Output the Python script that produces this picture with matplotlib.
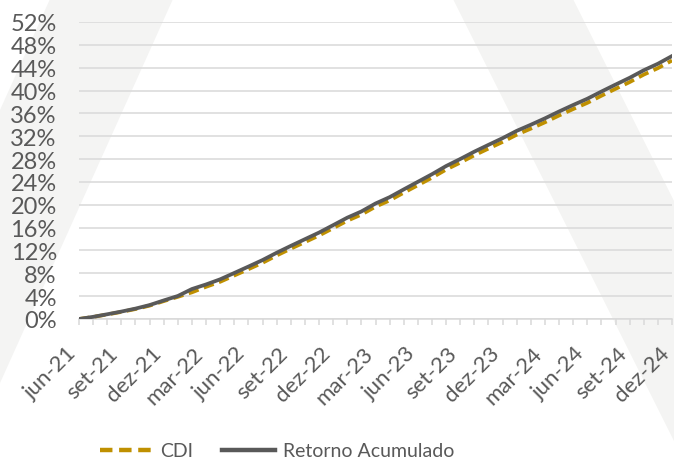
import matplotlib
matplotlib.use('Agg')
import matplotlib.pyplot as plt
import matplotlib.transforms as mtransforms
from matplotlib.patches import Polygon
from matplotlib.ticker import FixedLocator, MultipleLocator, PercentFormatter

# meses de jun-21 a dez-24 (43 pontos), rotulo a cada 3 meses
tick_labels = ['jun-21', 'set-21', 'dez-21', 'mar-22', 'jun-22', 'set-22', 'dez-22',
               'mar-23', 'jun-23', 'set-23', 'dez-23', 'mar-24', 'jun-24', 'set-24', 'dez-24']

cdi = [0.00, 0.36, 0.79, 1.24, 1.74, 2.34, 3.13, 3.88, 4.67, 5.64, 6.52, 7.62, 8.72,
       9.84, 11.12, 12.31, 13.46, 14.62, 15.90, 17.20, 18.28, 19.66, 20.76, 22.11,
       23.42, 24.74, 26.16, 27.38, 28.66, 29.84, 31.00, 32.27, 33.33, 34.44, 35.63,
       36.76, 37.84, 39.09, 40.30, 41.48, 42.79, 43.92, 45.26]

retorno = [0.00, 0.38, 0.83, 1.30, 1.82, 2.44, 3.25, 4.03, 5.25, 6.05, 6.95, 8.06, 9.18,
           10.32, 11.60, 12.80, 13.97, 15.13, 16.43, 17.74, 18.83, 20.22, 21.33, 22.69,
           24.02, 25.35, 26.78, 28.01, 29.30, 30.49, 31.66, 32.94, 34.01, 35.13, 36.33,
           37.47, 38.56, 39.82, 41.04, 42.23, 43.55, 44.69, 46.04]

plt.rcParams['font.family'] = ['Lato', 'DejaVu Sans']
txt = '#595959'

fig = plt.figure(figsize=(6.74, 4.64), dpi=100)

# marca d'agua ao fundo (pixels da figura)
bg = fig.add_axes([0, 0, 1, 1], zorder=-1)
bg.set_xlim(0, 674)
bg.set_ylim(464, 0)
bg.axis('off')
bg.add_patch(Polygon([(50, 0), (173, 0), (-36, 464), (-159, 464)], closed=True,
                     facecolor='#f4f4f3', edgecolor='none'))
bg.add_patch(Polygon([(453, 0), (573, 0), (805, 464), (685, 464)], closed=True,
                     facecolor='#f4f4f3', edgecolor='none'))

ax = fig.add_axes([79 / 674, 1 - 320 / 464, 593 / 674, 297 / 464])
ax.set_facecolor('none')

x = list(range(len(cdi)))
ax.plot(x, cdi, color='#bf9000', lw=2.7, dashes=(2.8, 1.5), label='CDI', zorder=3)
ax.plot(x, retorno, color='#595959', lw=2.7, label='Retorno Acumulado', zorder=4)

ax.set_xlim(0, len(cdi) - 1)
ax.set_ylim(0, 52)
ax.yaxis.set_major_locator(MultipleLocator(4))
ax.yaxis.set_major_formatter(PercentFormatter(decimals=0))
ax.grid(axis='y', color='#d9d9d9', lw=1.1)
ax.set_axisbelow(True)

ax.xaxis.set_major_locator(FixedLocator(range(0, len(cdi), 3)))
ax.xaxis.set_minor_locator(MultipleLocator(1))
ax.set_xticklabels(tick_labels)

for s in ['top', 'right', 'left']:
    ax.spines[s].set_visible(False)
ax.spines['bottom'].set_color('#d9d9d9')
ax.spines['bottom'].set_linewidth(1.1)

ax.tick_params(axis='y', length=0, pad=16, labelsize=17, labelcolor=txt)
ax.tick_params(axis='x', which='both', length=4, color='#d9d9d9', width=1.1)
ax.tick_params(axis='x', which='major', pad=18, labelsize=16, labelcolor=txt)

shift = mtransforms.ScaledTranslation(-6 / 100, 0, fig.dpi_scale_trans)
for lab in ax.get_xticklabels():
    lab.set_rotation(45)
    lab.set_ha('right')
    lab.set_va('center')
    lab.set_rotation_mode('anchor')
    lab.set_transform(lab.get_transform() + shift)

leg = fig.legend(loc='center', bbox_to_anchor=(277 / 674, 1 - 452 / 464), ncol=2,
                 frameon=False, fontsize=14, handlelength=2.7, handletextpad=0.4,
                 columnspacing=1.5)
for t in leg.get_texts():
    t.set_color(txt)
for h in leg.get_lines():
    h.set_linewidth(3.2)

fig.savefig('out.png', dpi=100)
